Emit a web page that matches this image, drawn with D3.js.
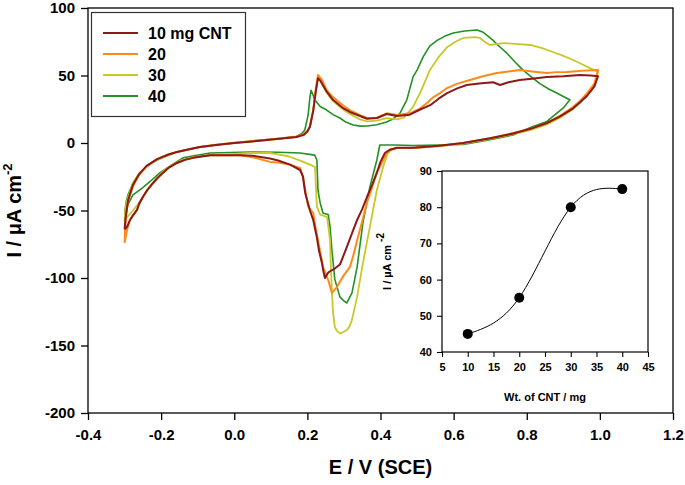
<!DOCTYPE html>
<html><head><meta charset="utf-8">
<script src="https://cdn.jsdelivr.net/npm/d3@7"></script>
<style>body{margin:0;background:#fff}svg{display:block;font-family:"Liberation Sans",Arial,sans-serif;font-weight:bold}</style>
</head><body>
<svg id="chart" width="685" height="485"></svg>
<script>
// ---- data ----
const seriesNames = ["10 mg CNT", "20", "30", "40"];
const seriesColors = ["#8c1a1a", "#ff8a1a", "#c8c82a", "#259025"];
const xTicks = [-0.4, -0.2, 0.0, 0.2, 0.4, 0.6, 0.8, 1.0, 1.2];
const yTicks = [-200, -150, -100, -50, 0, 50, 100];

// [E (V vs SCE), I (uA cm-2)] along the closed cyclic voltammogram
const cnt10 = [[-0.300,-64],[-0.297,-55],[-0.290,-42],[-0.277,-31],[-0.260,-23],[-0.240,-17],[-0.211,-12],[-0.180,-8.5],[-0.157,-6.7],[-0.120,-4.5],[-0.094,-3],[-0.050,-1.5],[0.000,0],[0.050,1.2],[0.090,2.2],[0.130,3.3],[0.170,4.4],[0.190,6],[0.200,8.5],[0.207,12],[0.216,24],[0.223,38],[0.229,48],[0.236,46],[0.253,38],[0.270,32],[0.297,26],[0.316,23],[0.344,20],[0.363,18],[0.390,18.5],[0.417,21.5],[0.445,20],[0.480,21],[0.510,25],[0.536,28],[0.560,33],[0.582,37],[0.610,40.5],[0.636,43],[0.670,44],[0.708,45],[0.727,43],[0.750,45],[0.781,46.7],[0.820,47.8],[0.855,48.9],[0.900,49.5],[0.946,50.4],[0.975,50],[0.995,49.5],
  [0.985,42],[0.965,35],[0.945,30],[0.926,25.5],[0.890,19.5],[0.855,14.8],[0.810,10.5],[0.763,7],[0.700,3.5],[0.626,0],[0.560,-2],[0.489,-3.5],[0.445,-3.5],[0.425,-5],[0.412,-7.4],[0.400,-14],[0.390,-22],[0.377,-31],[0.363,-40],[0.350,-49],[0.336,-57],[0.322,-67],[0.308,-77],[0.298,-84],[0.289,-90],[0.275,-93],[0.262,-95],[0.257,-96],[0.248,-100],[0.243,-94],[0.240,-89],[0.232,-80],[0.226,-70],[0.216,-57],[0.207,-50],[0.200,-43],[0.194,-37],[0.188,-25],[0.180,-20],[0.153,-16],[0.120,-13],[0.098,-11.5],[0.050,-9.5],[0.016,-9],[-0.030,-9],[-0.066,-9],[-0.090,-10],[-0.113,-11],[-0.135,-12.5],[-0.157,-14.8],[-0.180,-18.5],[-0.195,-22],[-0.210,-26],[-0.222,-29.6],[-0.237,-34.5],[-0.250,-40],[-0.260,-45],[-0.266,-49.6],[-0.278,-54],[-0.285,-57],[-0.293,-62],[-0.300,-64]];

const cnt20 = [[-0.300,-74],[-0.298,-62],[-0.295,-52],[-0.290,-43],[-0.277,-32],[-0.260,-23.5],[-0.240,-17.5],[-0.211,-12],[-0.180,-8.5],[-0.157,-6.7],[-0.120,-4.5],[-0.094,-3],[-0.050,-1.3],[0.000,0.2],[0.050,1.5],[0.090,2.5],[0.130,3.5],[0.170,4.8],[0.190,6.5],[0.200,9],[0.207,12],[0.216,24],[0.223,40],[0.229,50.4],[0.240,46.7],[0.253,39],[0.270,34],[0.297,28],[0.316,24.4],[0.344,20.7],[0.363,18.5],[0.390,18.5],[0.417,22],[0.445,20.7],[0.480,22],[0.505,25],[0.527,29.6],[0.545,34],[0.563,37],[0.582,40.7],[0.610,44],[0.645,46.7],[0.680,49.5],[0.718,51.9],[0.750,53],[0.781,54],[0.820,52.8],[0.855,51.9],[0.880,52.5],[0.910,52.6],[0.950,53.5],[0.995,54],
  [0.985,44],[0.965,37],[0.945,31],[0.926,26.7],[0.890,20],[0.855,14.8],[0.810,10.5],[0.763,7.4],[0.700,3.5],[0.626,0],[0.560,-2],[0.489,-3.7],[0.445,-3.7],[0.425,-5.5],[0.417,-7.4],[0.405,-14],[0.390,-22],[0.377,-33],[0.363,-44],[0.350,-58],[0.336,-72],[0.325,-84],[0.316,-92],[0.297,-99],[0.281,-106.7],[0.267,-111],[0.257,-101.5],[0.243,-92],[0.236,-82],[0.229,-72],[0.222,-62],[0.216,-52],[0.202,-47],[0.195,-36],[0.188,-25],[0.180,-18.5],[0.150,-16],[0.120,-14.5],[0.098,-14],[0.050,-10.5],[0.016,-9],[-0.030,-9],[-0.066,-9],[-0.090,-10],[-0.113,-11],[-0.135,-12.5],[-0.157,-14.8],[-0.180,-18.5],[-0.195,-22],[-0.210,-26],[-0.222,-29.6],[-0.237,-34.5],[-0.250,-40],[-0.260,-45],[-0.266,-49.6],[-0.278,-54],[-0.285,-57],[-0.293,-64],[-0.300,-74]];

const cnt30 = [[-0.300,-58],[-0.299,-52],[-0.295,-45],[-0.290,-40],[-0.277,-29.6],[-0.260,-22.5],[-0.250,-20],[-0.230,-15.5],[-0.211,-12.6],[-0.180,-9],[-0.157,-6.7],[-0.120,-4.5],[-0.094,-3],[-0.050,-1.5],[0.000,0],[0.050,1.2],[0.090,2.2],[0.130,3.3],[0.170,4.4],[0.190,6],[0.200,8.5],[0.207,12],[0.216,24],[0.223,38],[0.229,48],[0.236,46],[0.253,37],[0.270,31],[0.297,25],[0.316,21.5],[0.344,17.5],[0.363,16],[0.390,16.5],[0.417,18.5],[0.445,17.5],[0.465,19],[0.489,26.7],[0.510,38],[0.535,54],[0.560,64],[0.582,71],[0.605,75],[0.626,77.8],[0.658,78.5],[0.672,77.8],[0.685,75],[0.699,72.6],[0.735,74],[0.770,73.5],[0.809,72.6],[0.840,70.5],[0.872,67.4],[0.900,64.5],[0.927,61.5],[0.950,58.5],[0.973,55.5],[0.995,52.6],
  [0.985,42],[0.965,35],[0.945,29.5],[0.926,25],[0.890,18.5],[0.855,13.8],[0.810,9.5],[0.763,6.5],[0.700,3],[0.626,-0.5],[0.560,-2.5],[0.489,-3.7],[0.445,-3.7],[0.430,-5],[0.420,-7.4],[0.407,-17.8],[0.390,-35],[0.371,-62],[0.352,-89],[0.336,-114],[0.322,-131],[0.315,-136],[0.308,-138.5],[0.298,-140],[0.289,-141],[0.280,-139],[0.275,-136],[0.270,-125],[0.267,-109],[0.264,-90],[0.262,-72],[0.254,-55],[0.245,-54],[0.235,-53],[0.226,-47],[0.223,-30],[0.221,-17.8],[0.207,-16],[0.180,-13],[0.150,-10],[0.120,-8.5],[0.098,-7.4],[0.043,-7.4],[0.000,-8],[-0.066,-9],[-0.110,-10.5],[-0.140,-12.5],[-0.170,-16],[-0.195,-21],[-0.215,-27],[-0.235,-34],[-0.250,-40],[-0.265,-46],[-0.277,-50],[-0.293,-55],[-0.300,-58]];

const cnt40 = [[-0.300,-53],[-0.298,-48],[-0.295,-43],[-0.290,-38],[-0.277,-29.6],[-0.260,-22.5],[-0.250,-20],[-0.230,-15.5],[-0.211,-12.6],[-0.180,-9],[-0.157,-6.7],[-0.120,-4.5],[-0.094,-3],[-0.050,-1.5],[0.000,0],[0.050,1.5],[0.090,2.5],[0.130,3.5],[0.170,4.8],[0.185,7],[0.193,9.6],[0.202,20.7],[0.207,34],[0.210,39],[0.215,36],[0.220,32],[0.235,27],[0.253,24.4],[0.270,21],[0.289,18.5],[0.305,15.5],[0.325,13.3],[0.345,12.5],[0.363,12.6],[0.390,13.5],[0.417,15.6],[0.435,18],[0.453,22],[0.472,32],[0.489,49],[0.500,54],[0.517,64],[0.535,72],[0.555,76],[0.575,79],[0.599,81.5],[0.630,83],[0.664,83.7],[0.681,82],[0.695,79],[0.708,76],[0.725,71.5],[0.745,66.7],[0.768,60],[0.790,54],[0.815,48.5],[0.836,44],[0.860,40],[0.882,37],[0.900,34.5],[0.918,32],
  [0.900,26],[0.880,21.5],[0.855,16],[0.810,11.5],[0.763,6],[0.700,2.5],[0.626,-1],[0.560,-1.5],[0.489,-1.8],[0.440,-1.5],[0.398,-1.5],[0.390,-12.6],[0.371,-32.6],[0.352,-59],[0.336,-92],[0.322,-111],[0.308,-118.5],[0.300,-117],[0.289,-114],[0.275,-101],[0.267,-79],[0.262,-62],[0.257,-53],[0.243,-52],[0.235,-44.4],[0.229,-35],[0.226,-12.6],[0.220,-9],[0.180,-7.4],[0.120,-6.8],[0.043,-6.7],[-0.010,-7],[-0.066,-7.4],[-0.110,-9.5],[-0.140,-11],[-0.170,-16],[-0.203,-22],[-0.230,-28.5],[-0.250,-33],[-0.277,-38.5],[-0.290,-45],[-0.300,-53]];

// inset data
const insetWt = [10, 20, 30, 40];
const insetI = [45, 55, 80, 85];
const insetXTicks = [5, 10, 15, 20, 25, 30, 35, 40, 45];
const insetYTicks = [40, 50, 60, 70, 80, 90];

// ---- drawing ----
const svg = d3.select("#chart");
const x = d3.scaleLinear().domain([-0.4, 1.2]).range([88, 673]);
const y = d3.scaleLinear().domain([-200, 100]).range([413, 8]);
const hyph = f => d => f(d).replace("\u2212", "-");

const allSeries = [cnt10, cnt20, cnt30, cnt40];
const line = d3.line().x(d => x(d[0])).y(d => y(d[1]));
const widths = [2, 2, 1.8, 1.6];
[3, 2, 1, 0].forEach(i => {
  svg.append("path").datum(allSeries[i]).attr("d", line)
    .attr("fill", "none").attr("stroke", seriesColors[i])
    .attr("stroke-width", widths[i]).attr("stroke-linejoin", "round");
});

// axes
const gy = svg.append("g").attr("transform", `translate(${x.range()[0]},0)`)
  .call(d3.axisLeft(y).tickValues(yTicks).tickSize(7).tickPadding(6).tickFormat(hyph(d3.format("d"))));
const gx = svg.append("g").attr("transform", `translate(0,${y.range()[0]})`)
  .call(d3.axisBottom(x).tickValues(xTicks).tickSize(7).tickPadding(9).tickFormat(hyph(d3.format(".1f"))));
[gx, gy].forEach(g => {
  g.select(".domain").remove();
  g.selectAll("line").attr("stroke", "#000").attr("stroke-width", 1.3);
  g.selectAll("text").attr("font-size", 15).attr("font-weight", "bold").attr("fill", "#000")
    .attr("font-family", "'Liberation Sans', Arial, sans-serif");
});
svg.append("rect").attr("x", x.range()[0]).attr("y", y.range()[1])
  .attr("width", x.range()[1] - x.range()[0]).attr("height", y.range()[0] - y.range()[1])
  .attr("fill", "none").attr("stroke", "#000").attr("stroke-width", 1.3);

// axis titles
svg.append("text").attr("x", (x.range()[0] + x.range()[1]) / 2).attr("y", 474)
  .attr("text-anchor", "middle").attr("font-size", 20).text("E / V (SCE)");
const yt = svg.append("text").attr("transform", `translate(21,${(y.range()[0] + y.range()[1]) / 2}) rotate(-90)`)
  .attr("text-anchor", "middle").attr("font-size", 20);
yt.append("tspan").text("I /  \u03BCA cm");
yt.append("tspan").attr("font-size", 13).attr("dy", -9).text("-2");

// legend
const lg = svg.append("g");
lg.append("rect").attr("x", 91.5).attr("y", 12.5).attr("width", 154).attr("height", 104)
  .attr("fill", "#fff").attr("stroke", "#333").attr("stroke-width", 1.2);
seriesNames.forEach((n, i) => {
  const yy = 33 + i * 21;
  lg.append("line").attr("x1", 103).attr("x2", 138).attr("y1", yy).attr("y2", yy)
    .attr("stroke", seriesColors[i]).attr("stroke-width", 2);
  lg.append("text").attr("x", 148).attr("y", yy).attr("dy", "0.36em")
    .attr("font-size", 16).text(n);
});

// inset
const x2 = d3.scaleLinear().domain([5, 45]).range([442, 648]);
const y2 = d3.scaleLinear().domain([40, 90]).range([352, 171]);
svg.append("rect").attr("x", x2.range()[0]).attr("y", y2.range()[1])
  .attr("width", x2.range()[1] - x2.range()[0]).attr("height", y2.range()[0] - y2.range()[1])
  .attr("fill", "#fff").attr("stroke", "#000").attr("stroke-width", 1.2);
const ig = svg.append("g");
const gy2 = ig.append("g").attr("transform", `translate(${x2.range()[0]},0)`)
  .call(d3.axisLeft(y2).tickValues(insetYTicks).tickSize(5).tickPadding(5));
const gx2 = ig.append("g").attr("transform", `translate(0,${y2.range()[0]})`)
  .call(d3.axisBottom(x2).tickValues(insetXTicks).tickSize(5).tickPadding(6));
[gx2, gy2].forEach(g => {
  g.select(".domain").remove();
  g.selectAll("line").attr("stroke", "#000").attr("stroke-width", 1.1);
  g.selectAll("text").attr("font-size", 11).attr("font-weight", "bold").attr("fill", "#000")
    .attr("font-family", "'Liberation Sans', Arial, sans-serif");
});
const insetPts = insetWt.map((w, i) => [w, insetI[i]]);
ig.append("path").datum(insetPts)
  .attr("d", d3.line().curve(d3.curveNatural).x(d => x2(d[0])).y(d => y2(d[1])))
  .attr("fill", "none").attr("stroke", "#000").attr("stroke-width", 1);
ig.selectAll("circle.pt").data(insetPts).join("circle")
  .attr("cx", d => x2(d[0])).attr("cy", d => y2(d[1])).attr("r", 5).attr("fill", "#000");
ig.append("text").attr("x", (x2.range()[0] + x2.range()[1]) / 2).attr("y", 401)
  .attr("text-anchor", "middle").attr("font-size", 11).text("Wt. of CNT / mg");
const yt2 = ig.append("text").attr("transform", `translate(391,${(y2.range()[0] + y2.range()[1]) / 2}) rotate(-90)`)
  .attr("text-anchor", "middle").attr("font-size", 11);
yt2.append("tspan").text("I / \u00B5A cm");
yt2.append("tspan").attr("font-size", 10).attr("dy", -7).attr("dx", 3).text("-2");
</script>
</body></html>
